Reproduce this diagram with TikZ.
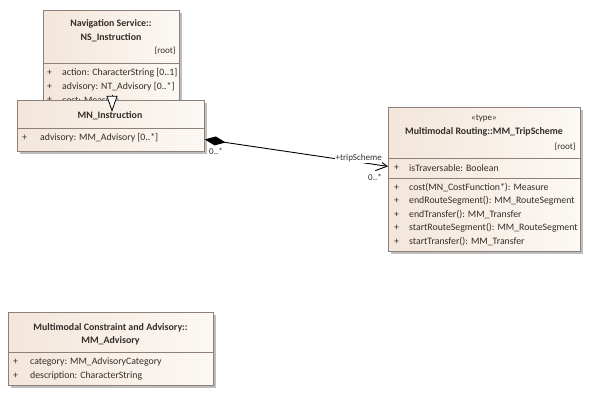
\documentclass[tikz,border=0pt]{standalone}
\usepackage{fontspec}
\setmainfont{Carlito}
\usetikzlibrary{arrows.meta,shadows}

\definecolor{boxline}{HTML}{8E7F7A}
\definecolor{boxleft}{HTML}{F3E6DA}
\definecolor{boxright}{HTML}{FCF8F4}
\definecolor{txt}{HTML}{332D2A}
\definecolor{shadowgray}{HTML}{BEBEBE}

\tikzset{
  classbox/.style={draw=boxline, line width=0.8pt, left color=boxleft, right color=boxright,
    anchor=north west, inner sep=0pt,
    drop shadow={shadow xshift=3pt, shadow yshift=-3pt, fill=shadowgray, opacity=1}},
  ttl/.style={font=\fontsize{9.9}{11}\selectfont\bfseries, text=txt, inner sep=0pt},
  attr/.style={font=\fontsize{9.8}{11}\selectfont, text=txt, anchor=west, inner sep=0pt},
  tag/.style={font=\fontsize{9}{10}\selectfont, text=txt, inner sep=0pt},
  mult/.style={font=\fontsize{9}{10}\selectfont, text=txt, inner sep=0.5pt},
  sep/.style={draw=boxline, line width=0.8pt},
  genline/.style={draw=black, line width=0.8pt, -{Triangle[open, length=16pt, width=11pt, fill=white]}},
  compline/.style={draw=black, line width=0.9pt,
    {Diamond[length=21pt, width=9pt]}-{Straight Barb[length=11pt, width=12pt]}},
}

\begin{document}
\begin{tikzpicture}[x=1pt, y=-1pt]
  \useasboundingbox (0,0) rectangle (589,415);

  % Navigation Service::NS_Instruction
  \node[classbox, minimum width=136pt, minimum height=101pt] (ns) at (43,10) {};
  \node[ttl] (nst1) at (111,24) {Navigation Service::};
  \node[ttl] (nst2) at (111,38) {NS\_Instruction};
  \node[tag, anchor=east] (nsroot) at (176,51) {\{root\}};
  \draw[sep] (43,63) -- (179,63);
  \node[attr] (nsp1) at (47,73) {+};
  \node[attr] (nsa1) at (62,73) {action: CharacterString [0..1]};
  \node[attr] (nsp2) at (47,87) {+};
  \node[attr] (nsa2) at (62,87) {advisory: NT\_Advisory [0..*]};
  \node[attr] (nsp3) at (47,100) {+};
  \node[attr] (nsa3) at (62,100) {cost: Measure};

  % MN_Instruction
  \node[classbox, minimum width=187pt, minimum height=51pt] (mn) at (17,100) {};
  \node[ttl] (mnt) at (110,116) {MN\_Instruction};
  \draw[sep] (17,128) -- (204,128);
  \node[attr] (mnp1) at (22,138) {+};
  \node[attr] (mna1) at (40,138) {advisory: MM\_Advisory [0..*]};

  % generalization MN_Instruction -> NS_Instruction
  \coordinate (gx) at (112,0);
  \draw[genline] ([yshift=5pt]mn.north -| gx) -- (ns.south -| gx);

  % Multimodal Routing::MM_TripScheme
  \node[classbox, minimum width=192pt, minimum height=144pt] (ts) at (388,107) {};
  \node[tag] (tsst) at (484,118) {«type»};
  \node[ttl] (tst) at (484,132) {Multimodal Routing::MM\_TripScheme};
  \node[tag, anchor=east] (tsroot) at (576,147) {\{root\}};
  \draw[sep] (388,158) -- (580,158);
  \node[attr] (tsp0) at (394,168) {+};
  \node[attr] (tsa0) at (409,168) {isTraversable: Boolean};
  \draw[sep] (388,178) -- (580,178);
  \node[attr] (tsp1) at (394,187.5) {+};
  \node[attr] (tso1) at (409,187.5) {cost(MN\_CostFunction*): Measure};
  \node[attr] (tsp2) at (394,201) {+};
  \node[attr] (tso2) at (409,201) {endRouteSegment(): MM\_RouteSegment};
  \node[attr] (tsp3) at (394,214.5) {+};
  \node[attr] (tso3) at (409,214.5) {endTransfer(): MM\_Transfer};
  \node[attr] (tsp4) at (394,228) {+};
  \node[attr] (tso4) at (409,228) {startRouteSegment(): MM\_RouteSegment};
  \node[attr] (tsp5) at (394,241.5) {+};
  \node[attr] (tso5) at (409,241.5) {startTransfer(): MM\_Transfer};

  % composition MN_Instruction -> MM_TripScheme
  \draw[compline] ([yshift=-13.5pt]mn.east) -- ([yshift=13pt]ts.west)
    node[pos=0.84, mult, fill=white, above=-1pt] (role) {+tripScheme};
  \node[mult] (m1) at (216,151) {0..*};
  \node[mult] (m2) at (375,177) {0..*};

  % Multimodal Constraint and Advisory::MM_Advisory
  \node[classbox, minimum width=205pt, minimum height=73pt] (adv) at (8,312) {};
  \node[ttl] (advt1) at (110.5,328) {Multimodal Constraint and Advisory::};
  \node[ttl] (advt2) at (110.5,341) {MM\_Advisory};
  \draw[sep] (8,352) -- (213,352);
  \node[attr] (advp1) at (13,362) {+};
  \node[attr] (adva1) at (30,362) {category: MM\_AdvisoryCategory};
  \node[attr] (advp2) at (13,376) {+};
  \node[attr] (adva2) at (30,376) {description: CharacterString};
\end{tikzpicture}
\end{document}
